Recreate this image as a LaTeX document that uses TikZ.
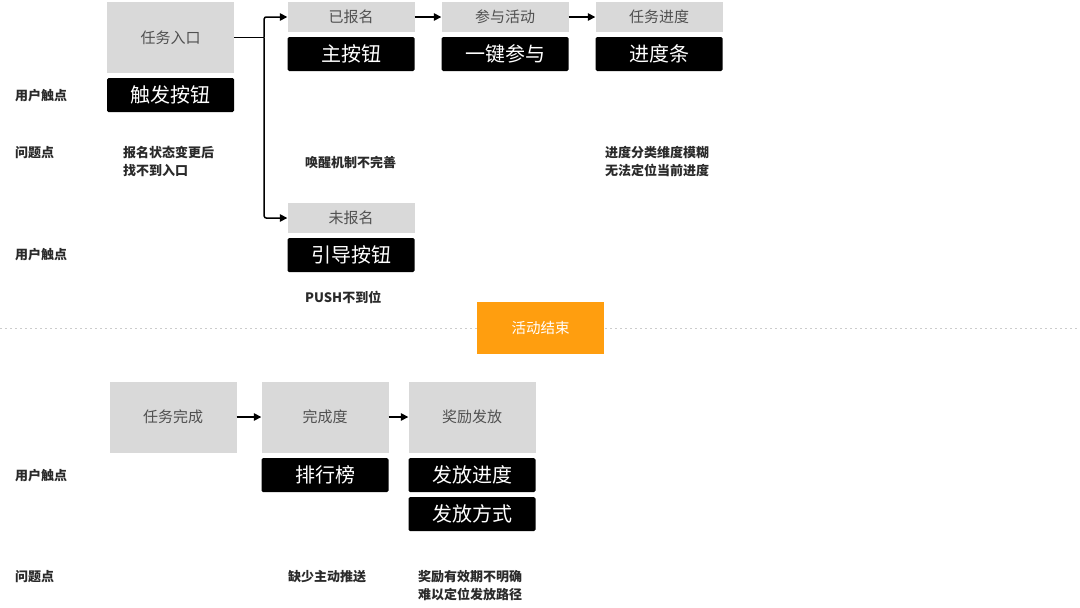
\documentclass[tikz,border=0pt]{standalone}
\usepackage{fontspec}
\setmainfont{Noto Sans CJK SC}
\usetikzlibrary{arrows.meta,calc}
\definecolor{gboxc}{HTML}{D9D9D9}
\definecolor{gtext}{HTML}{505050}
\definecolor{orangec}{HTML}{FF9E0F}
\definecolor{labc}{HTML}{2A2A2A}
\tikzset{
  gbox/.style={fill=gboxc, draw=none, text=gtext, font=\fontsize{15}{17}\selectfont, inner sep=0pt, minimum width=127pt},
  bbox/.style={fill=black, draw=none, rounded corners=1.5pt, text=white, font=\fontsize{20}{22}\selectfont, inner sep=0pt, minimum width=127pt, minimum height=34pt},
  lab/.style={anchor=west, text=labc, font=\bfseries\fontsize{13}{18}\selectfont, inner sep=0pt, align=left},
  flow/.style={line width=1.5pt, -{Triangle[length=7.5pt,width=7.5pt]}},
}
\begin{document}
\begin{tikzpicture}[x=1pt,y=-1pt]
\path[use as bounding box, fill=white] (0,0) rectangle (1080,608);
% divider
\draw[black!20, line width=1pt, dash pattern=on 2pt off 3pt] (0,328) -- (1080,328);
% top row
\node[gbox, minimum height=71pt] (entry) at (170.5,37.5) {任务入口};
\node[bbox] (trig) at (170.5,95) {触发按钮};
\node[gbox, minimum height=30pt] (yibao) at (351,17) {已报名};
\node[bbox] (zhu) at (351,54) {主按钮};
\node[gbox, minimum height=30pt] (canyu) at (505,17) {参与活动};
\node[bbox] (yijian) at (505,54) {一键参与};
\node[gbox, minimum height=30pt] (jindu) at (659,17) {任务进度};
\node[bbox] (tiao) at (659,54) {进度条};
\node[gbox, minimum height=30pt] (weibao) at (351,218) {未报名};
\node[bbox] (yindao) at (351,255) {引导按钮};
\coordinate (br) at ($(entry.east)+(30,0)$);
\draw[line width=1.5pt] (entry.east) -- (br);
\draw[flow, rounded corners=2pt] (br) |- (yibao.west);
\draw[flow, rounded corners=2pt] (br) |- (weibao.west);
\draw[flow] (yibao.east) -- (canyu.west);
\draw[flow] (canyu.east) -- (jindu.west);
% labels
\node[lab] (l1) at (15,96) {用户触点};
\node[lab] (l2) at (15,153) {问题点};
\node[lab] (l3) at (15,255) {用户触点};
\node[lab] (p1) at (123,161) {报名状态变更后\\找不到入口};
\node[lab] (p2) at (305,162) {唤醒机制不完善};
\node[lab] (p3) at (605,162) {进度分类维度模糊\\无法定位当前进度};
\node[lab] (p4) at (305,297) {PUSH不到位};
% end marker
\node[fill=orangec, text=white, minimum width=127pt, minimum height=52pt, inner sep=0pt, font=\fontsize{14.5}{16}\selectfont] (end) at (540.5,327.5) {活动结束};
% bottom row
\node[gbox, minimum height=71pt] (wancheng) at (173,417) {任务完成};
\node[gbox, minimum height=71pt] (wcd) at (325,417) {完成度};
\node[gbox, minimum height=71pt] (jiangli) at (472,417) {奖励发放};
\node[bbox] (paihang) at (325,475) {排行榜};
\node[bbox] (ffjd) at (472,475) {发放进度};
\node[bbox] (fffs) at (472,514) {发放方式};
\draw[flow] (wancheng.east) -- (wcd.west);
\draw[flow] (wcd.east) -- (jiangli.west);
\node[lab] (l4) at (15,476) {用户触点};
\node[lab] (l5) at (15,577) {问题点};
\node[lab] (p5) at (288,577) {缺少主动推送};
\node[lab] (p6) at (418,586) {奖励有效期不明确\\难以定位发放路径};
\end{tikzpicture}
\end{document}
